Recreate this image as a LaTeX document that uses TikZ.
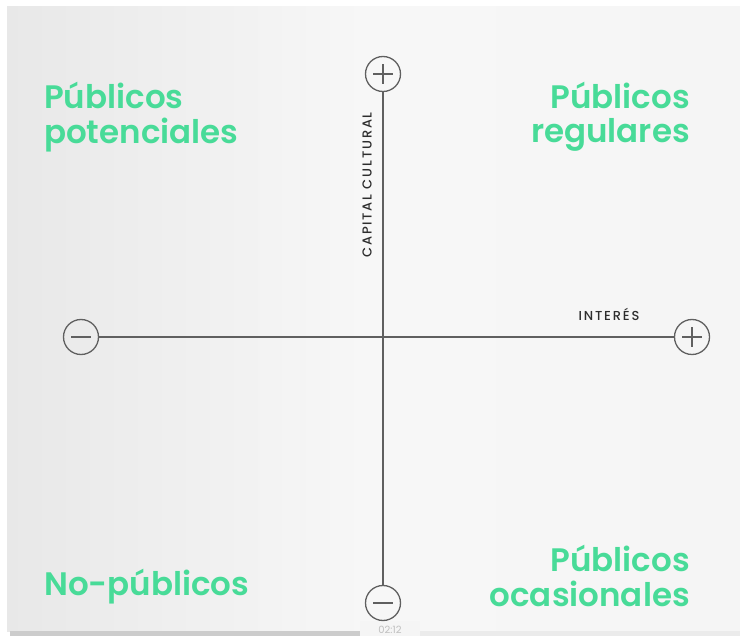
\documentclass[tikz,border=0pt]{standalone}
\usepackage{fontspec}
\setmainfont{Poppins}
\newfontfamily\headfont{Poppins SemiBold}
\newfontfamily\axisfont{Poppins Medium}[LetterSpace=14]
\usetikzlibrary{calc}
\definecolor{mint}{RGB}{72,219,152}
\definecolor{axisgray}{RGB}{96,96,96}
\definecolor{labelgray}{RGB}{45,45,45}
\begin{document}
\begin{tikzpicture}[x=1pt,y=-1pt,
  axis/.style={draw=axisgray, line width=1.3pt},
  sign/.style={circle, draw=axisgray, line width=1.3pt, minimum size=35pt, inner sep=0pt},
  plussign/.style={sign, path picture={
      \draw[axisgray, line width=1.1pt]
        ($(path picture bounding box.center)+(-10pt,0)$) -- ($(path picture bounding box.center)+(10pt,0)$)
        ($(path picture bounding box.center)+(0,-10pt)$) -- ($(path picture bounding box.center)+(0,10pt)$);}},
  minussign/.style={sign, path picture={
      \draw[axisgray, line width=1.4pt]
        ($(path picture bounding box.center)+(-10pt,0)$) -- ($(path picture bounding box.center)+(10pt,0)$);}},
  quadrant/.style={font=\headfont\fontsize{32.5}{32.5}\selectfont, text=mint, inner sep=0pt},
  axislabel/.style={font=\axisfont\fontsize{13}{13}\selectfont, text=labelgray, inner sep=0pt}
]
\useasboundingbox (0,0) rectangle (740,636);
\fill[white] (0,0) rectangle (740,636);
% soft grey backdrop
\shade[left color=black!9, right color=black!4, middle color=white!97!black] (7,7) rectangle (740,631);
% strip along the bottom edge
\fill[black!20] (10,631) rectangle (360,636);
\fill[black!8] (420,631) rectangle (740,636);
\fill[white!96!black] (360,621) rectangle (420,636);
\node[font=\fontsize{10}{10}\selectfont, text=black!25, inner sep=0pt] (clock) at (390,630) {02:12};

% axis end markers
\node[plussign] (top) at (383,74) {};
\node[minussign] (bottom) at (383,603) {};
\node[minussign] (left) at (81,337) {};
\node[plussign] (right) at (692,337) {};

% axes
\draw[axis] (top) -- (bottom);
\draw[axis] (left) -- (right);

% axis titles
\node[axislabel, rotate=90] (capital) at (367,185) {CAPITAL CULTURAL};
\node[axislabel, anchor=base] (interes) at (609,321) {INTERÉS};

% quadrant names
\node[quadrant, anchor=base west] (potA) at (44,109) {Públicos};
\node[quadrant, anchor=base west] (potB) at (44,144) {potenciales};
\node[quadrant, anchor=base east] (regA) at (690,109) {Públicos};
\node[quadrant, anchor=base east] (regB) at (690,143) {regulares};
\node[quadrant, anchor=base west] (nop) at (44,595) {No-públicos};
\node[quadrant, anchor=base east] (ocaA) at (690,572) {Públicos};
\node[quadrant, anchor=base east] (ocaB) at (690,606) {ocasionales};
\end{tikzpicture}
\end{document}
